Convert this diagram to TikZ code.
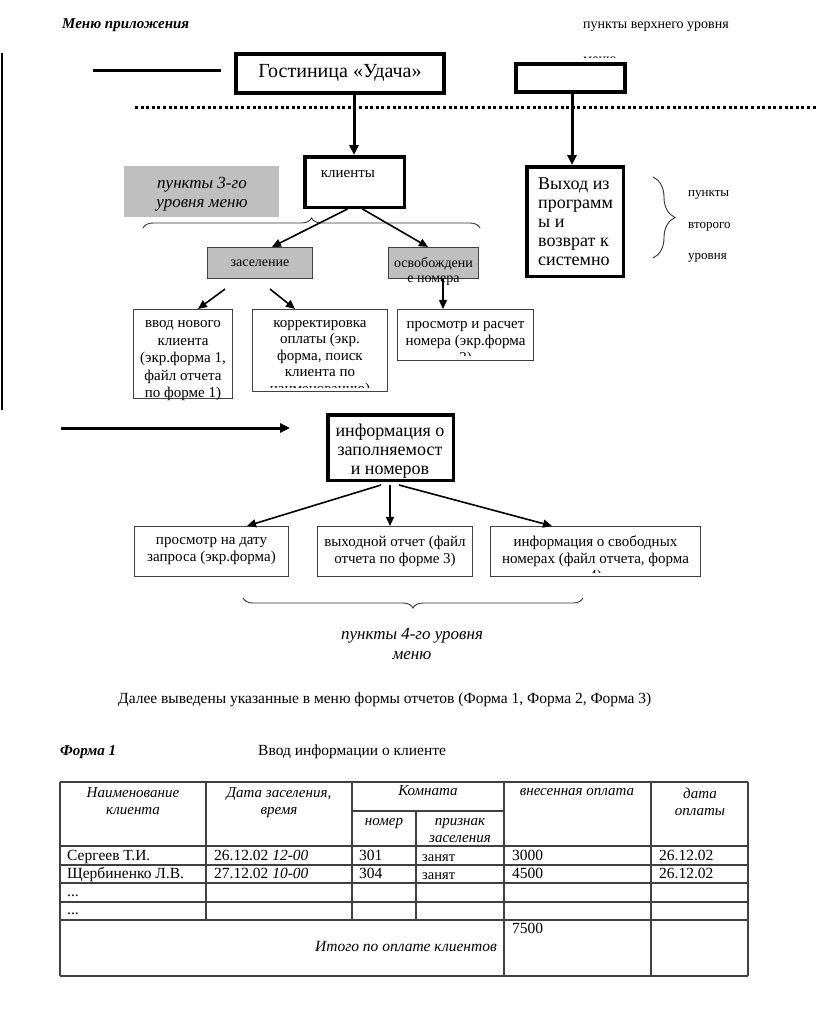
\documentclass[tikz,border=0pt]{standalone}
\usepackage{fontspec}
\setmainfont{Liberation Serif}
\usetikzlibrary{arrows.meta,decorations.pathreplacing,calc}
\newcommand\fsz[2]{\fontsize{#1}{#2}\selectfont}
\begin{document}
\begin{tikzpicture}[x=1pt,y=-1pt,
  t/.style={inner sep=0pt, align=center, execute at begin node=\strut, execute at end node=\strut},
  tl/.style={t, align=left, anchor=west},
  box/.style={draw, inner sep=0pt, fill=white},
  thinbox/.style={box, draw=black!75, line width=1.1pt},
  graybox/.style={thinbox, fill=black!25},
  bigarr/.style={line width=3pt, -{Triangle[length=10pt,width=9pt]}},
  arr/.style={line width=1.6pt, -{Triangle[length=9pt,width=8pt]}},
  brc/.style={decorate, decoration={brace, amplitude=#1}, line width=0.9pt, draw=black!80},
  tline/.style={line width=1.1pt, draw=black!75},
]
\useasboundingbox (0,0) rectangle (816,1014);
\fill[white] (0,0) rectangle (816,1014);

% ---------- top level ----------
\node[tl, font=\fsz{15}{18}\bfseries\itshape] (title) at (62,25) {Меню приложения};
\node[tl, font=\fsz{14}{17}] (toplvl) at (583,25) {пункты верхнего уровня};
\begin{scope}
  \clip (560,40) rectangle (640,57.5);
  \node[t, font=\fsz{14}{17}] (toplvlb) at (600,60) {меню};
\end{scope}

\coordinate (vl1) at (2,53);
\coordinate (vl2) at (2,410);
\draw[line width=2pt] (vl1) -- (vl2);

\coordinate (hl1) at (93,71);
\coordinate (hl2) at (221,71);
\draw[line width=3pt] (hl1) -- (hl2);

\node[box, line width=4.5pt, minimum width=208pt, minimum height=39pt] (gost) at (340,73.5) {};
\node[t, font=\fsz{20}{23}] (gostt) at (340,73) {Гостиница «Удача»};

\node[box, line width=4pt, minimum width=109pt, minimum height=28pt] (empty) at (570.5,78) {};

\coordinate (dl1) at (135,108);
\coordinate (dl2) at (816,108);
\draw[line width=3pt, dash pattern=on 3pt off 2.6pt] (dl1) -- (dl2);

% ---------- second level ----------
\node[box, line width=3.5pt, minimum width=99.5pt, minimum height=50.5pt] (klienty) at (354.5,182) {};
\node[t, font=\fsz{15}{18}] (klientyt) at (348,174) {клиенты};

\node[box, line width=3.5pt, minimum width=96.5pt, minimum height=109.5pt] (vyhod) at (575,221.5) {};
\node[tl, font=\fsz{18}{19}] (vyhodt) at (538,224) {Выход из\\программ\\ы и\\возврат к\\системно};

\draw[bigarr] ($(gost.south -| klienty.north)+(-0.5,0)$) -- ($(klienty.north)+(-0.5,0)$);
\draw[bigarr] ($(empty.south)+(1.5,0)$) -- ($(vyhod.north)+(-3,0)$);

\draw[brc=22pt] (653,177) -- (653,258);
\node[tl, font=\fsz{13}{31.5}] (lvl2t) at (688,230) {пункты\\второго\\уровня};

% ---------- third level ----------
\node[inner sep=0pt, fill=black!25, minimum width=155pt, minimum height=51pt] (gray3) at (201.5,191.5) {};
\node[t, font=\fsz{17}{19}\itshape] (gray3t) at (202,195) {пункты 3-го\\уровня меню};

\draw[brc=10pt] (143,228) -- (480,228);

\node[graybox, minimum width=105pt, minimum height=31pt] (zasel) at (260,263) {};
\node[t, font=\fsz{14}{16}] (zaselt) at (260,263) {заселение};
\node[graybox, minimum width=90pt, minimum height=31pt] (osvob) at (433.5,263) {};
\node[t, font=\fsz{14}{15}] (osvobt) at (433.5,272.5) {освобождени\\е номера};

\draw[arr] ($(klienty.south)+(-7,0)$) -- ($(zasel.north)+(12,0)$);
\draw[arr] ($(klienty.south)+(8,0)$) -- ($(osvob.north)+(-5.5,0)$);

\node[thinbox, minimum width=99pt, minimum height=89pt] (vvod) at (183,354) {};
\node[t, font=\fsz{15}{17.5}] (vvodt) at (183,362) {ввод нового\\клиента\\(экр.форма 1,\\файл отчета\\по форме 1)};

\node[thinbox, minimum width=135pt, minimum height=82pt] (korr) at (320,350.5) {};
\begin{scope}
  \clip (253,310) rectangle (387,387);
  \node[t, font=\fsz{15}{16.5}] (korrt) at (320,359) {корректировка\\оплаты (экр.\\форма, поиск\\клиента по\\наименованию)};
\end{scope}

\node[thinbox, minimum width=136pt, minimum height=51pt] (prosm) at (465.5,335) {};
\begin{scope}
  \clip (398,310) rectangle (533,355.5);
  \node[t, font=\fsz{15}{17}] (prosmt) at (465.5,345) {просмотр и расчет\\номера (экр.форма\\2)};
\end{scope}

\draw[arr] ($(zasel.south)+(-35,10)$) -- ($(vvod.north)+(15,0)$);
\draw[arr] ($(zasel.south)+(10,10)$) -- ($(korr.north)+(-25,0)$);
\draw[arr] ($(osvob.south)+(9.5,0)$) -- ($(prosm.north)+(-22.5,0)$);

% ---------- fourth level ----------
\coordinate (la1) at (61,428);
\coordinate (la2) at (290,428);
\draw[bigarr] (la1) -- (la2);

\node[box, line width=3.5pt, minimum width=125.5pt, minimum height=65.5pt] (info) at (390.5,447.5) {};
\node[t, font=\fsz{18}{19}] (infot) at (390,452) {информация о\\заполняемост\\и номеров};

\node[thinbox, minimum width=154pt, minimum height=50pt] (r1) at (211.5,551.5) {};
\node[t, font=\fsz{15}{17}] (r1t) at (211.5,552.5) {просмотр на дату\\запроса (экр.форма)};
\node[thinbox, minimum width=155pt, minimum height=50pt] (r2) at (395,551.5) {};
\node[t, font=\fsz{15}{17}] (r2t) at (395,552.5) {выходной отчет (файл\\отчета по форме 3)};
\node[thinbox, minimum width=210pt, minimum height=50pt] (r3) at (595.5,551.5) {};
\begin{scope}
  \clip (491,527) rectangle (700,572);
  \node[t, font=\fsz{15}{17}] (r3t) at (595.5,561) {информация о свободных\\номерах (файл отчета, форма\\4)};
\end{scope}

\draw[arr] ($(info.south)+(-9.5,3)$) -- ($(r1.north)+(35.5,0)$);
\draw[arr] ($(info.south)+(-0.5,3)$) -- ($(r2.north)+(-5,0)$);
\draw[arr] ($(info.south)+(8.5,3)$) -- ($(r3.north)+(-43.5,0)$);

\draw[brc=10pt] (583,598) -- (243,598);
\node[t, font=\fsz{17}{20}\itshape] (lvl4t) at (412,647) {пункты 4-го уровня\\меню};

% ---------- text below ----------
\node[tl, font=\fsz{15.5}{18}] (dalee) at (118,700) {Далее выведены указанные в меню формы отчетов (Форма 1, Форма 2, Форма 3)};
\node[tl, font=\fsz{15}{18}\bfseries\itshape] (forma) at (60,752) {Форма 1};
\node[tl, font=\fsz{15.5}{18}] (vvodinf) at (258,752) {Ввод информации о клиенте};

% ---------- table ----------
\foreach \yy in {782,846,865,883,902,920,976} \draw[tline] (60,\yy) -- (748,\yy);
\draw[tline] (352,811) -- (504,811);
\foreach \xx in {60,504,651,748} \draw[tline] (\xx,782) -- (\xx,976);
\foreach \xx in {206,352} \draw[tline] (\xx,782) -- (\xx,920);
\draw[tline] (416,811) -- (416,920);

\begin{scope}[every node/.style={t, font=\fsz{15}{17}\itshape}]
\node (h1) at (133,804) {Наименование\\клиента};
\node (h2) at (279,804) {Дата заселения,\\время};
\node (h3) at (428,792) {Комната};
\node (h31) at (384,822) {номер};
\node (h32) at (460,833) {признак\\заселения};
\node (h4) at (577,792) {внесенная оплата};
\node (h5) at (700,804) {дата\\оплаты};
\end{scope}

\begin{scope}[every node/.style={tl, font=\fsz{15.5}{17}}]
\node (a1) at (67,857) {Сергеев Т.И.};
\node (a2) at (214,857) {26.12.02 \textit{12-00}};
\node (a3) at (359,857) {301};
\node[font=\fsz{14.5}{17}] (a4) at (422,858) {занят};
\node (a5) at (512,857) {3000};
\node (a6) at (659,857) {26.12.02};
\node (b1) at (67,875) {Щербиненко Л.В.};
\node (b2) at (214,875) {27.12.02 \textit{10-00}};
\node (b3) at (359,875) {304};
\node[font=\fsz{14.5}{17}] (b4) at (422,876) {занят};
\node (b5) at (512,875) {4500};
\node (b6) at (659,875) {26.12.02};
\node (c1) at (67,893) {...};
\node (d1) at (67,911) {...};
\node (e5) at (512,930) {7500};
\node[t, anchor=east, font=\fsz{15.5}{17}\itshape] (e1) at (497,948) {Итого по оплате клиентов};
\end{scope}
\end{tikzpicture}
\end{document}
